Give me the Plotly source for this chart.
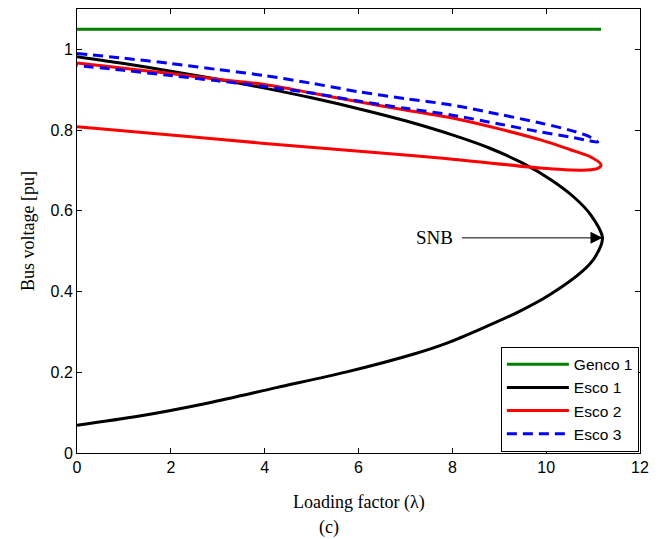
import plotly.graph_objects as go

# ---- data ----
genco1_lam = [0, 2, 4, 6, 8, 10, 11.17]
genco1_v = [1.05, 1.05, 1.05, 1.05, 1.05, 1.05, 1.05]

esco1_lam = [0, 1, 2, 3, 4, 5, 6, 7, 8, 8.8, 9.5, 10.1, 10.6, 10.95, 11.2,
             11.05, 10.78, 10.05, 9.4, 8.6, 7.9, 7.2, 5.75, 4.25, 2.8, 1.3, 0]
esco1_v = [0.982, 0.965, 0.946, 0.926, 0.904, 0.880, 0.853, 0.823, 0.788, 0.755, 0.718, 0.677, 0.633, 0.590, 0.533,
           0.487, 0.451, 0.390, 0.349, 0.307, 0.273, 0.246, 0.201, 0.162, 0.124, 0.091, 0.069]

esco2_lam = [0, 1, 2, 3, 4, 5, 6, 7, 8, 9, 9.9, 10.5, 10.94, 11.17,
             11.1, 10.87, 10.4, 9.87, 7.74, 6.28, 4, 2, 0]
esco2_v = [0.966, 0.953, 0.940, 0.926, 0.913, 0.892, 0.870, 0.850, 0.830, 0.803, 0.775, 0.752, 0.734, 0.714,
           0.705, 0.701, 0.702, 0.706, 0.731, 0.745, 0.767, 0.788, 0.808]

esco3_lam = [0, 1, 2, 3, 4, 5, 6, 7, 8, 9, 9.9, 10.5, 10.9, 11.1,
             10.9, 10.5, 9.9, 9, 8, 7, 6, 5, 4, 3, 2, 1, 0]
esco3_v = [0.990, 0.978, 0.965, 0.950, 0.935, 0.916, 0.895, 0.878, 0.862, 0.839, 0.817, 0.800, 0.785, 0.770,
           0.774, 0.783, 0.795, 0.815, 0.837, 0.854, 0.872, 0.892, 0.908, 0.922, 0.935, 0.948, 0.960]

x_ticks = [0, 2, 4, 6, 8, 10, 12]
y_ticks = [0, 0.2, 0.4, 0.6, 0.8, 1]
y_tick_text = ["0", "0.2", "0.4", "0.6", "0.8", "1"]

snb_point = (11.2, 0.533)
snb_text_pos = (7.63, 0.533)

SANS = "Liberation Sans, Arial, sans-serif"
SERIF = "Liberation Serif, Times New Roman, serif"

fig = go.Figure()
fig.add_trace(go.Scatter(x=genco1_lam, y=genco1_v, mode="lines", name="Genco 1",
                         line=dict(color="rgb(0,128,0)", width=3)))
fig.add_trace(go.Scatter(x=esco1_lam, y=esco1_v, mode="lines", name="Esco 1",
                         line=dict(color="black", width=3, shape="spline", smoothing=0.8)))
fig.add_trace(go.Scatter(x=esco2_lam, y=esco2_v, mode="lines", name="Esco 2",
                         line=dict(color="rgb(255,0,0)", width=3, shape="spline", smoothing=0.8)))
fig.add_trace(go.Scatter(x=esco3_lam, y=esco3_v, mode="lines", name="Esco 3",
                         line=dict(color="rgb(0,0,255)", width=3, dash="10px,6px", shape="spline", smoothing=0.8)))

axis_common = dict(showline=True, linecolor="black", linewidth=1, mirror="ticks",
                   ticks="inside", ticklen=5, tickcolor="black", showgrid=False, zeroline=False,
                   tickfont=dict(family=SANS, size=16, color="black"))

fig.update_xaxes(range=[0, 12], tickvals=x_ticks, **axis_common)
fig.update_yaxes(range=[0, 1.1], tickvals=y_ticks, ticktext=y_tick_text, **axis_common)

fig.add_annotation(x=snb_point[0], y=snb_point[1], ax=snb_text_pos[0], ay=snb_text_pos[1],
                   xref="x", yref="y", axref="x", ayref="y", text="SNB",
                   font=dict(family=SERIF, size=19, color="black"),
                   showarrow=True, arrowhead=2, arrowsize=2.4, arrowwidth=1, arrowcolor="black",
                   borderpad=8)

fig.add_annotation(text="Loading factor (λ)", xref="paper", yref="paper", x=0.5, y=-0.1126,
                   showarrow=False, xanchor="center", yanchor="middle",
                   font=dict(family=SERIF, size=18, color="black"))
fig.add_annotation(text="(c)", xref="paper", yref="paper", x=0.448, y=-0.1667,
                   showarrow=False, xanchor="center", yanchor="middle",
                   font=dict(family=SERIF, size=18, color="black"))
fig.add_annotation(text="Bus voltage [pu]", xref="paper", yref="paper", x=-0.087, y=0.5,
                   showarrow=False, xanchor="center", yanchor="middle", textangle=-90,
                   font=dict(family=SERIF, size=18, color="black"))

# the page body adds an 8 px offset, so the figure is 8 px smaller and shifted
fig.update_layout(
    width=664, height=531,
    margin=dict(l=69, r=32, t=1, b=86),
    paper_bgcolor="white", plot_bgcolor="white",
    showlegend=True,
    legend=dict(x=0.998, y=0.003, xanchor="right", yanchor="bottom",
                bgcolor="white", bordercolor="black", borderwidth=1,
                font=dict(family=SANS, size=15.5, color="black"),
                tracegroupgap=0, itemwidth=62),
)

fig.write_html("out.html")
